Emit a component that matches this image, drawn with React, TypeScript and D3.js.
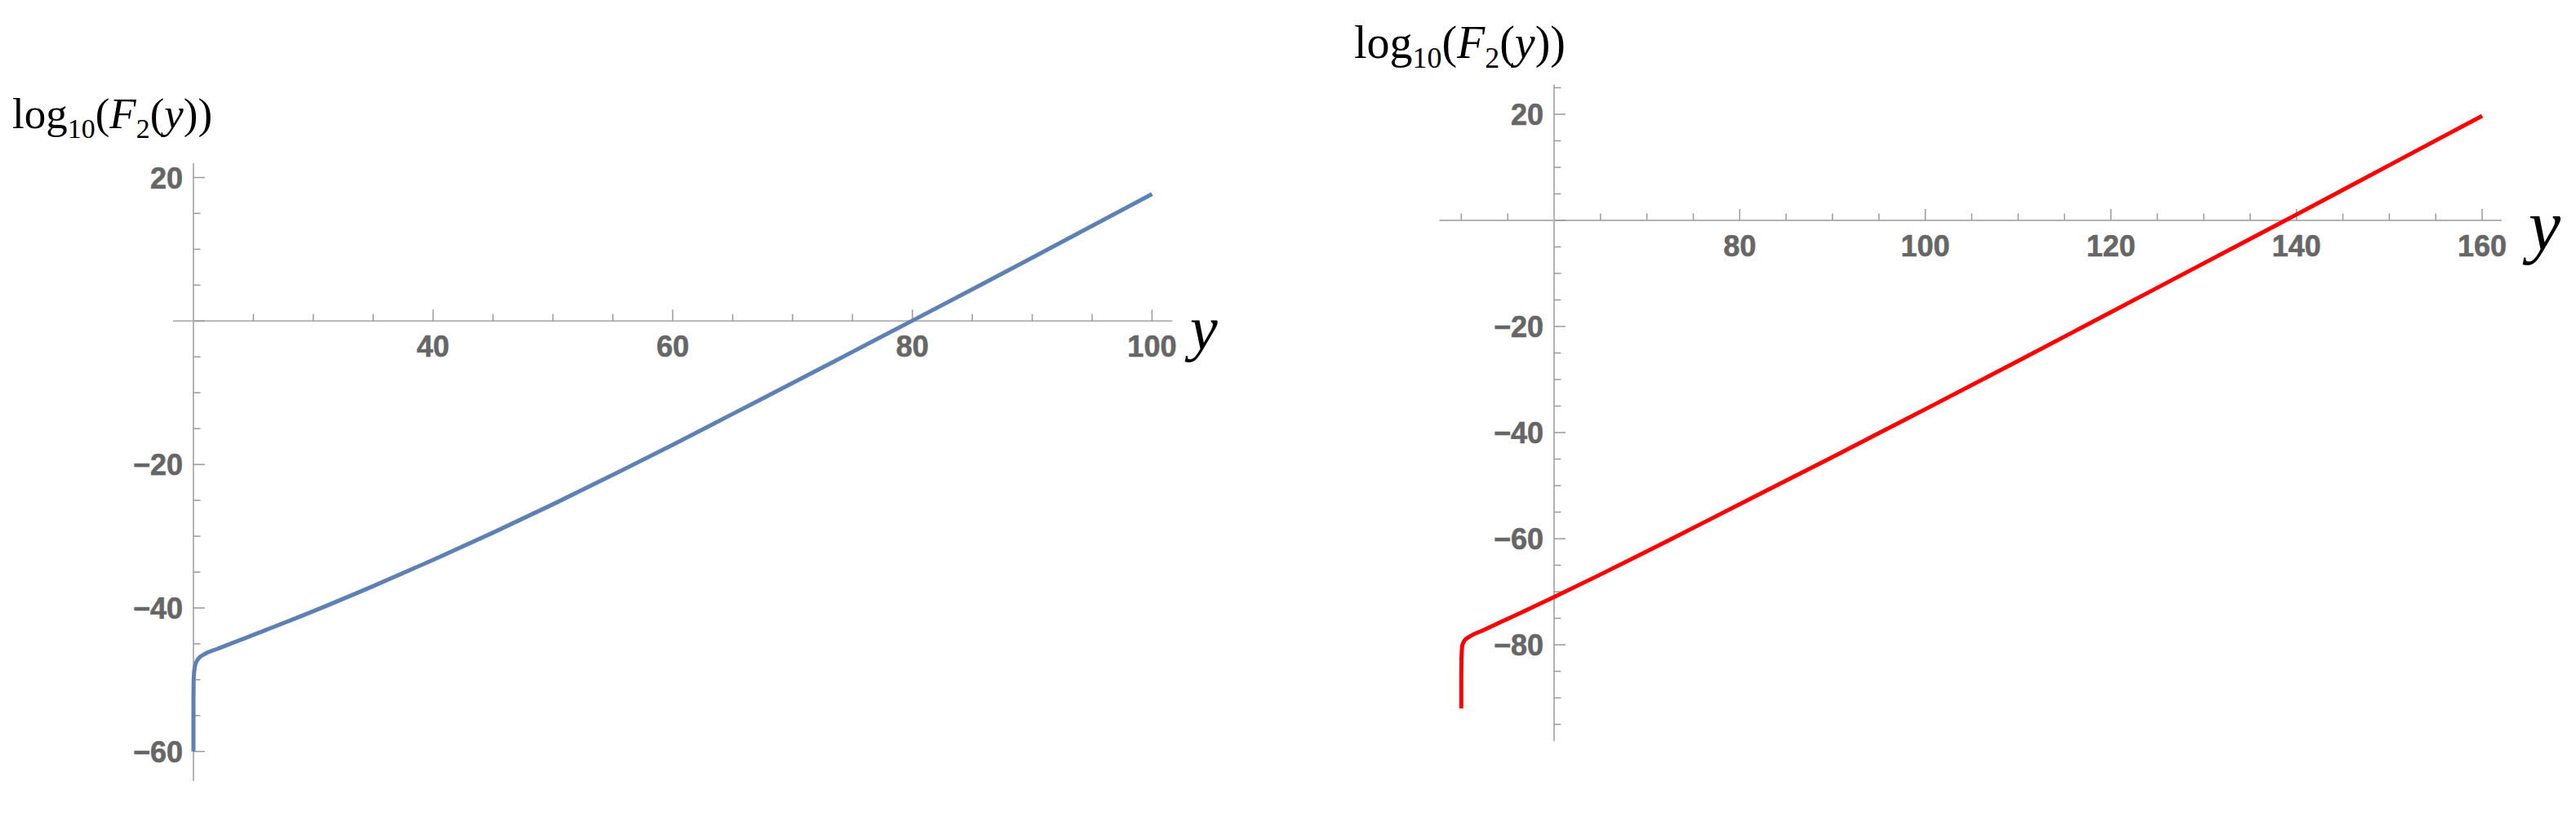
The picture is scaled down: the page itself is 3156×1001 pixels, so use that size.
import React from "react";
import * as d3 from "d3";

// ---------- data ----------
const leftX = [20, 20.002, 20.02, 20.08, 20.2, 20.45, 20.9, 22, 25, 30, 35, 40, 45, 50, 55, 60, 65, 70, 75, 80, 85, 90, 95, 100];
const leftY = [-60, -53, -50, -48.6, -47.7, -47.0, -46.45, -45.7, -43.75, -40.45, -36.95, -33.3, -29.5, -25.55, -21.45, -17.25, -12.95, -8.65, -4.3, 0.05, 4.42, 8.82, 13.25, 17.7];

const rightX = [50, 50.002, 50.03, 50.12, 50.35, 50.85, 52.3, 56, 60, 65, 70, 80, 90, 100, 110, 120, 130, 140, 150, 160];
const rightY = [-92, -86, -82, -80.1, -79.2, -78.5, -77.3, -74.3, -71, -66.75, -62.4, -53.5, -44.6, -35.6, -26.5, -17.3, -8.1, 1.1, 10.4, 19.7];

const leftXMajor = [40, 60, 80, 100];
const leftXMinor = [25, 30, 35, 45, 50, 55, 65, 70, 75, 85, 90, 95];
const leftYMajor = [20, -20, -40, -60];
const leftYMinor = [15, 10, 5, -5, -10, -15, -25, -30, -35, -45, -50, -55];

const rightXMajor = [80, 100, 120, 140, 160];
const rightXMinor = [50, 55, 65, 70, 75, 85, 90, 95, 105, 110, 115, 125, 130, 135, 145, 150, 155];
const rightYMajor = [20, -20, -40, -60, -80];
const rightYMinor = [25, 15, 10, 5, -5, -10, -15, -25, -30, -35, -45, -50, -55, -65, -70, -75, -85, -90, -95];

const AXIS_COLOR = "#b4b4b4";
const TICK_COLOR = "#9a9a9a";
const LABEL_COLOR = "#666666";

type PanelProps = {
  xs: number[];
  ys: number[];
  color: string;
  xScale: d3.ScaleLinear<number, number>;
  yScale: d3.ScaleLinear<number, number>;
  xExtent: [number, number];
  yExtent: [number, number];
  origin: [number, number];
  xMajor: number[];
  xMinor: number[];
  yMajor: number[];
  yMinor: number[];
  labelX: number;
  labelY: number;
  labelSize: number;
  varX: number;
  varY: number;
  varSize: number;
};

function fmt(v: number) {
  return v < 0 ? "\u2212" + Math.abs(v) : String(v);
}

function Panel(p: PanelProps) {
  const { xScale: x, yScale: y } = p;
  const ax = x(p.origin[0]);
  const ay = y(p.origin[1]);
  const line = d3
    .line<number>()
    .x((_, i) => x(p.xs[i]))
    .y((d) => y(d))
    .curve(d3.curveMonotoneX);
  const majorLen = 14;
  const minorLen = 8.5;
  const fs = 36;
  const s = p.labelSize;
  return (
    <g>
      {/* axes */}
      <line x1={x(p.xExtent[0])} x2={x(p.xExtent[1])} y1={ay} y2={ay} stroke={AXIS_COLOR} strokeWidth={2} />
      <line x1={ax} x2={ax} y1={y(p.yExtent[0])} y2={y(p.yExtent[1])} stroke={AXIS_COLOR} strokeWidth={2} />
      {/* x ticks */}
      {p.xMajor.map((v) => (
        <line key={"xM" + v} x1={x(v)} x2={x(v)} y1={ay} y2={ay - majorLen} stroke={TICK_COLOR} strokeWidth={1.5} />
      ))}
      {p.xMinor.map((v) => (
        <line key={"xm" + v} x1={x(v)} x2={x(v)} y1={ay} y2={ay - minorLen} stroke={TICK_COLOR} strokeWidth={1.5} />
      ))}
      {/* y ticks */}
      {[...p.yMajor, 0].map((v) => (
        <line key={"yM" + v} x1={ax} x2={ax + majorLen} y1={y(v)} y2={y(v)} stroke={TICK_COLOR} strokeWidth={1.5} />
      ))}
      {p.yMinor.map((v) => (
        <line key={"ym" + v} x1={ax} x2={ax + minorLen} y1={y(v)} y2={y(v)} stroke={TICK_COLOR} strokeWidth={1.5} />
      ))}
      {/* tick labels */}
      {p.xMajor.map((v) => (
        <text key={"xl" + v} x={x(v)} y={ay + 44} textAnchor="middle" fontFamily="Liberation Sans, Arial, sans-serif" fontWeight="bold" fontSize={fs} fill={LABEL_COLOR} stroke={LABEL_COLOR} strokeWidth={0.6}>
          {fmt(v)}
        </text>
      ))}
      {p.yMajor.map((v) => (
        <text key={"yl" + v} x={ax - 13} y={y(v) + 13} textAnchor="end" fontFamily="Liberation Sans, Arial, sans-serif" fontWeight="bold" fontSize={fs} fill={LABEL_COLOR} stroke={LABEL_COLOR} strokeWidth={0.6}>
          {fmt(v)}
        </text>
      ))}
      {/* curve */}
      <path d={line(p.ys) || ""} fill="none" stroke={p.color} strokeWidth={5} strokeLinejoin="round" strokeLinecap="butt" />
      {/* axis labels */}
      <text x={p.labelX} y={p.labelY} fontFamily="Liberation Serif, Times New Roman, serif" fontSize={s} fill="#000">
        <tspan>log</tspan>
        <tspan fontSize={s * 0.64} dy={s * 0.22}>10</tspan>
        <tspan dy={-s * 0.22}>(</tspan>
        <tspan fontStyle="italic">F</tspan>
        <tspan fontSize={s * 0.64} dy={s * 0.22}>2</tspan>
        <tspan dy={-s * 0.22}>(</tspan>
        <tspan fontStyle="italic">y</tspan>
        <tspan>))</tspan>
      </text>
      <text x={p.varX} y={p.varY} fontFamily="Liberation Serif, Times New Roman, serif" fontStyle="italic" fontSize={p.varSize} fill="#000">
        y
      </text>
    </g>
  );
}

export default function App() {
  const xL = d3.scaleLinear().domain([20, 100]).range([237, 1411.4]);
  const yL = d3.scaleLinear().domain([0, 20]).range([393.3, 217.5]);
  const xR = d3.scaleLinear().domain([60, 160]).range([1904, 3041]);
  const yR = d3.scaleLinear().domain([0, 20]).range([270, 140]);
  return (
    <svg width={3156} height={1001} style={{ position: "absolute", left: 0, top: 0, background: "#fff" }}>
      <rect width={3156} height={1001} fill="#fff" />
      <Panel
        xs={leftX}
        ys={leftY}
        color="#5E81B5"
        xScale={xL}
        yScale={yL}
        xExtent={[18.3, 101.7]}
        yExtent={[-64.1, 22]}
        origin={[20, 0]}
        xMajor={leftXMajor}
        xMinor={leftXMinor}
        yMajor={leftYMajor}
        yMinor={leftYMinor}
        labelX={15}
        labelY={157}
        labelSize={53}
        varX={1458}
        varY={428}
        varSize={76}
      />
      <Panel
        xs={rightX}
        ys={rightY}
        color="#FF0000"
        xScale={xR}
        yScale={yR}
        xExtent={[47.65, 162.1]}
        yExtent={[-98.2, 25.6]}
        origin={[60, 0]}
        xMajor={rightXMajor}
        xMinor={rightXMinor}
        yMajor={rightYMajor}
        yMinor={rightYMinor}
        labelX={1659}
        labelY={71}
        labelSize={56}
        varX={3098}
        varY={306}
        varSize={88}
      />
    </svg>
  );
}
